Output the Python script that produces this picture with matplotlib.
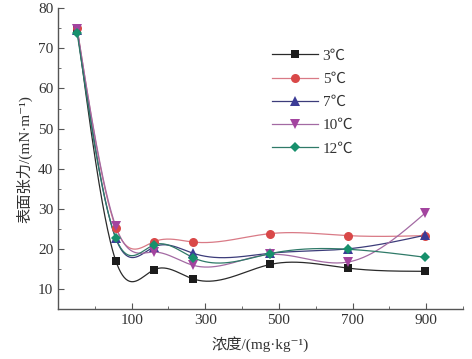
import numpy as np
import matplotlib
matplotlib.use("Agg")
import matplotlib.pyplot as plt
from matplotlib.lines import Line2D

plt.rcParams['font.family'] = ['Liberation Serif', 'Noto Sans CJK SC', 'DejaVu Serif']

# Data
conc = [-48, 57, 161, 267, 476, 687, 897]
labels = ['3℃', '5℃', '7℃', '10℃', '12℃']
t3 = [75.0, 17.0, 14.8, 12.5, 16.1, 15.2, 14.4]
t5 = [75.0, 25.3, 21.8, 21.7, 23.8, 23.3, 23.3]
t7 = [74.5, 22.6, 20.5, 18.9, 18.9, 20.0, 23.4]
t10 = [74.8, 25.6, 19.2, 15.9, 18.6, 16.7, 28.9]
t12 = [73.8, 22.7, 21.0, 17.8, 18.8, 19.9, 17.9]
series = [t3, t5, t7, t10, t12]

colors = ['#1c1c1c', '#d94848', '#3c3c96', '#a3449f', '#17906c']
line_colors = ['#2a2a2a', '#d97a86', '#3c3c7a', '#a36aa3', '#2f7a68']
markers = ['s', 'o', '^', 'v', 'D']
msizes = [5.5, 6.5, 6.5, 6.5, 5.0]

xticks_major = [100, 300, 500, 700, 900]
xticks_minor = [0, 200, 400, 600, 800, 1000]
yticks_major = [10, 20, 30, 40, 50, 60, 70, 80]


def natural_spline(x, y, n=400):
    x = np.asarray(x, float)
    y = np.asarray(y, float)
    m = len(x)
    h = np.diff(x)
    A = np.zeros((m, m))
    b = np.zeros(m)
    A[0, 0] = 1
    A[-1, -1] = 1
    for i in range(1, m - 1):
        A[i, i - 1] = h[i - 1]
        A[i, i] = 2 * (h[i - 1] + h[i])
        A[i, i + 1] = h[i]
        b[i] = 6 * ((y[i + 1] - y[i]) / h[i] - (y[i] - y[i - 1]) / h[i - 1])
    M = np.linalg.solve(A, b)
    xs = np.linspace(x[0], x[-1], n)
    ys = np.empty_like(xs)
    for k, xv in enumerate(xs):
        i = min(np.searchsorted(x, xv, side='right') - 1, m - 2)
        i = max(i, 0)
        t1 = x[i + 1] - xv
        t2 = xv - x[i]
        hi = h[i]
        ys[k] = (M[i] * t1 ** 3 / (6 * hi) + M[i + 1] * t2 ** 3 / (6 * hi)
                 + (y[i] / hi - M[i] * hi / 6) * t1
                 + (y[i + 1] / hi - M[i + 1] * hi / 6) * t2)
    return xs, ys


fig = plt.figure(figsize=(4.72, 3.59), dpi=100)
ax = fig.add_axes([0.1229, 0.1393, 0.858, 0.8376])

for vals, c, lc, mk, ms in zip(series, colors, line_colors, markers, msizes):
    xs, ys = natural_spline(conc, vals)
    ax.plot(xs, ys, color=lc, lw=0.9, zorder=2)
for vals, c, mk, ms in zip(series, colors, markers, msizes):
    ax.plot(conc, vals, linestyle='none', marker=mk, color=c, markersize=ms,
            markeredgewidth=0, zorder=3)

ax.set_xlim(-100, 1000)
ax.set_ylim(5, 80)
ax.set_xticks(xticks_major)
ax.set_xticks(xticks_minor, minor=True)
ax.set_yticks(yticks_major)
ax.set_yticks([15, 25, 35, 45, 55, 65, 75], minor=True)

for s in ['top', 'right']:
    ax.spines[s].set_visible(False)
for s in ['left', 'bottom']:
    ax.spines[s].set_color('#555555')
    ax.spines[s].set_linewidth(1.0)

ax.tick_params(which='both', direction='in', colors='#555555', labelcolor='#333333')
ax.tick_params(which='major', length=4, labelsize=11)
ax.tick_params(which='minor', length=2.5)

ax.set_xlabel('浓度/(mg·kg⁻¹)', fontsize=11, color='#333333', labelpad=7)
ax.set_ylabel('表面张力/(mN·m⁻¹)', fontsize=11, color='#333333', labelpad=4)

handles = [Line2D([0], [0], color=lc, lw=0.9, marker=mk, markerfacecolor=c,
                  markeredgewidth=0, markersize=ms)
           for c, lc, mk, ms in zip(colors, line_colors, markers, msizes)]
leg = ax.legend(handles, labels, loc='upper left', bbox_to_anchor=(0.495, 0.91),
                frameon=False, fontsize=11, handlelength=3.0, labelspacing=0.62,
                handletextpad=0.3, labelcolor='#333333')

fig.savefig('out.png', dpi=100)
